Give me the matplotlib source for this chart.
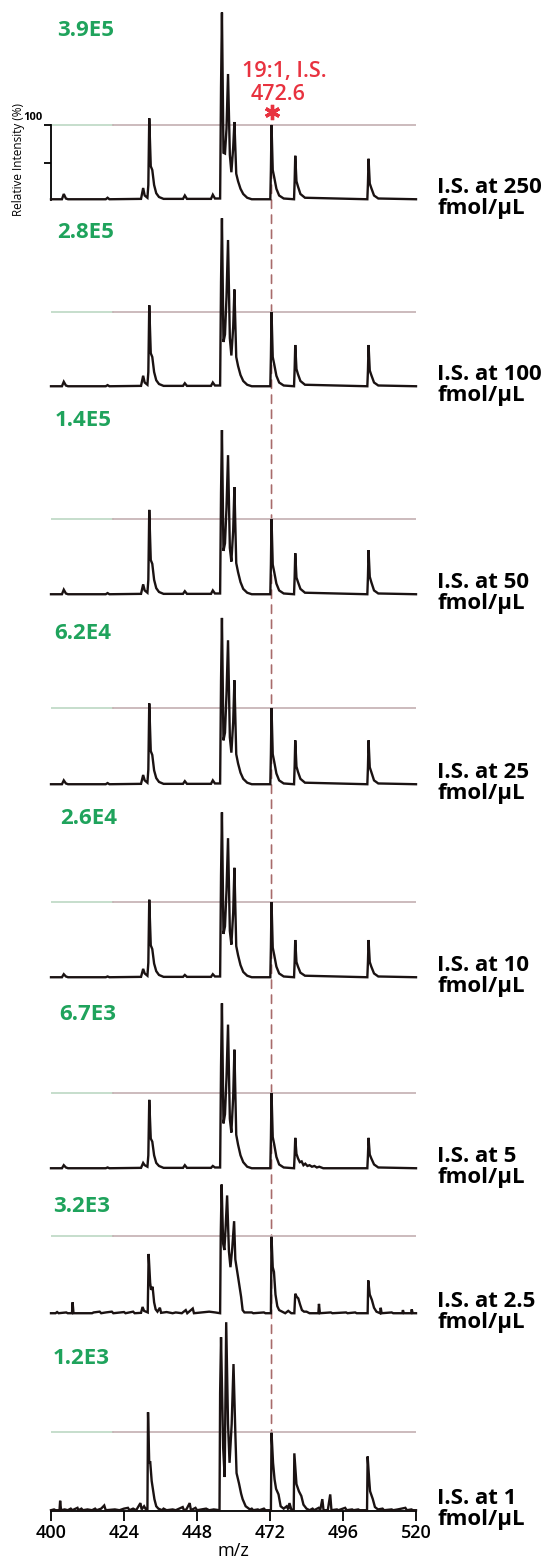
import matplotlib
matplotlib.use('Agg')
import matplotlib.pyplot as plt
from matplotlib.patches import ConnectionPatch
from matplotlib.transforms import offset_copy

plt.rcParams['font.family'] = ['Open Sans', 'DejaVu Sans']

# ---- data ----
conc_labels = ['250', '100', '50', '25', '10', '5', '2.5', '1']
signal_labels = ['3.9E5', '2.8E5', '1.4E5', '6.2E4', '2.6E4', '6.7E3', '3.2E3', '1.2E3']
mz_ticks = [400, 424, 448, 472, 496, 520]
is_mz = 472.5

# shared m/z points for the 250 .. 10 fmol/uL spectra
mz_a = [400.0, 403.6, 404.2, 404.9, 405.6, 418.0, 418.6, 419.2,
        429.6, 430.3, 430.8, 431.7, 432.0, 432.3, 432.8, 433.3, 433.9, 434.6, 435.5, 437.0,
        443.4, 444.0, 444.7, 452.6, 453.2, 453.9,
        455.6, 455.9, 456.2, 456.7, 457.2, 457.7, 458.2, 458.8, 459.3, 459.9, 460.3,
        460.9, 461.5, 462.3, 463.2, 464.5, 466.0,
        472.1, 472.3, 472.5, 472.9, 473.4, 474.1, 475.0, 476.5,
        479.9, 480.1, 480.3, 480.7, 481.2, 482.0, 483.5,
        504.0, 504.2, 504.4, 504.8, 505.3, 506.2, 507.6, 520.0]

int_250 = [1, 1, 8, 2, 1, 1, 3, 1,
           1.5, 16, 6, 3, 20, 109, 45, 40, 20, 9, 4, 1.5,
           1.5, 6, 1.5, 1.5, 7, 2,
           2, 150, 250, 63, 62, 95, 168, 60, 37, 70, 104, 35, 25, 15, 8, 3, 1,
           1, 40, 100, 40, 30, 15, 6, 2,
           1, 25, 59, 25, 18, 8, 3,
           1, 22, 55, 22, 16, 6, 2, 1]
int_100 = [1, 1, 7, 2, 1, 1, 2.5, 1,
           1.5, 15, 6, 3, 20, 109, 45, 40, 20, 9, 4, 1.5,
           1.5, 5, 1.5, 1.5, 6, 2,
           2, 140, 225, 60, 70, 120, 196, 65, 42, 80, 130, 40, 28, 16, 8, 3, 1,
           1, 40, 100, 40, 30, 15, 6, 2,
           1, 24, 56, 24, 17, 8, 3,
           1, 22, 56, 22, 16, 6, 2, 1]
int_50 = [1, 1, 7, 2, 1, 1, 2.5, 1,
          1.5, 14, 6, 3, 20, 112, 46, 41, 20, 9, 4, 1.5,
          1.5, 5, 1.5, 1.5, 6, 2,
          2, 135, 217, 58, 68, 115, 184, 62, 44, 85, 142, 42, 30, 17, 8, 3, 1,
          1, 40, 100, 40, 30, 15, 6, 2,
          1, 23, 55, 23, 17, 8, 3,
          1, 24, 59, 24, 17, 6, 2, 1]
int_25 = [1, 1, 6, 2, 1, 1, 2.5, 1,
          1.5, 13, 6, 3, 20, 106, 44, 39, 19, 9, 4, 1.5,
          1.5, 5, 1.5, 1.5, 6, 2,
          2, 135, 217, 58, 68, 118, 188, 62, 42, 82, 136, 40, 28, 16, 8, 3, 1,
          1, 40, 100, 40, 30, 15, 6, 2,
          1, 24, 58, 24, 17, 8, 3,
          1, 23, 58, 23, 17, 6, 2, 1]
int_10 = [1, 1, 5, 2, 1, 1, 2, 1,
          1.5, 12, 6, 3, 20, 103, 43, 38, 19, 9, 4, 1.5,
          1.5, 4, 1.5, 1.5, 5, 2,
          2, 135, 218, 58, 68, 115, 184, 62, 44, 86, 145, 42, 30, 17, 8, 3, 1,
          1, 40, 100, 40, 30, 15, 6, 2,
          1, 21, 50, 21, 15, 7, 3,
          1, 21, 50, 21, 15, 6, 2, 1]

# (m/z, relative intensity) for the lower concentrations
spec_5 = [(400.0, 1), (403.6, 1), (404.2, 5), (404.9, 2), (405.6, 1), (418.0, 1), (418.6, 2), (419.2, 1),
          (429.6, 1.5), (430.3, 8), (430.8, 5), (431.7, 3), (432.0, 18), (432.3, 91), (432.8, 40),
          (433.3, 36), (433.9, 18), (434.6, 8), (435.5, 4), (437.0, 1.5),
          (443.4, 1.5), (444.0, 5), (444.7, 1.5), (452.6, 1.5), (453.2, 4), (453.9, 2),
          (455.6, 2), (455.9, 135), (456.2, 218), (456.7, 60), (457.2, 72), (457.7, 120), (458.2, 190),
          (458.8, 66), (459.3, 48), (459.9, 95), (460.3, 157), (460.9, 45), (461.5, 32), (462.3, 18),
          (463.2, 9), (464.5, 3), (466.0, 1),
          (472.1, 1), (472.3, 40), (472.5, 100), (472.9, 42), (473.4, 32), (474.1, 16), (475.0, 6), (476.5, 2),
          (479.9, 1), (480.1, 18), (480.3, 41), (480.7, 20), (481.2, 14), (481.8, 9), (482.4, 10),
          (483.0, 5), (483.6, 7), (484.3, 4), (485.0, 5), (485.8, 3), (486.6, 4), (487.4, 2),
          (488.2, 3), (489.5, 1),
          (504.0, 1), (504.2, 18), (504.4, 41), (504.8, 19), (505.3, 14), (506.2, 6), (507.6, 2), (520.0, 1)]

spec_2p5 = [(400.0, 1), (401.5, 1), (402.0, 2.5), (402.5, 1), (405.0, 2), (405.5, 1), (406.9, 1),
            (407.1, 15), (407.4, 1), (413.5, 1), (414.0, 2), (416.0, 3), (416.5, 1), (418.0, 2),
            (420.0, 3), (420.5, 1), (424.0, 2.5), (424.5, 1), (427.0, 3), (427.5, 1),
            (429.6, 1.5), (430.1, 9), (430.6, 4), (431.8, 2), (432.1, 77), (432.6, 40), (432.9, 31),
            (433.4, 35), (433.9, 15), (434.4, 6), (435.0, 3), (435.8, 8), (436.2, 1.5), (438.0, 2.5),
            (440.0, 1), (441.0, 2), (443.0, 1), (444.3, 5), (444.8, 1), (446.6, 7), (447.0, 1),
            (452.0, 3), (454.0, 2), (455.6, 1), (455.8, 100), (456.1, 166), (456.6, 90), (457.0, 82),
            (457.4, 110), (457.9, 152), (458.5, 80), (459.0, 60), (459.6, 85), (460.2, 119),
            (460.6, 70), (461.0, 60), (461.6, 45), (462.5, 22), (463.0, 5), (463.6, 2), (466.0, 2),
            (466.5, 1), (470.0, 2), (470.5, 1), (472.3, 1), (472.5, 99), (472.9, 60), (473.3, 54),
            (473.8, 25), (474.4, 10), (475.0, 5), (476.0, 3), (477.0, 1), (478.0, 4), (479.0, 1),
            (480.0, 1), (480.3, 26), (480.8, 22), (481.3, 20), (481.9, 12), (482.5, 5), (483.2, 3),
            (484.0, 3), (485.0, 1), (487.9, 1), (488.1, 13), (488.4, 1), (492.0, 2), (492.5, 1),
            (497.0, 2), (497.5, 1), (500.0, 2), (500.5, 1),
            (504.1, 1), (504.3, 43), (504.8, 25), (505.5, 18), (506.2, 8), (507.0, 3), (508.2, 1),
            (508.4, 8), (508.7, 1), (512.0, 2), (512.5, 1), (515.5, 1), (515.7, 5), (516.0, 1),
            (518.4, 1), (518.6, 6), (518.9, 1), (520.0, 1)]

spec_1 = [(400.0, 1), (401.0, 2), (401.5, 1), (402.8, 1), (403.0, 13), (403.3, 1), (404.5, 2),
          (405.5, 1), (406.5, 3), (407.0, 1), (408.7, 4), (409.0, 1), (410.0, 3), (410.5, 1),
          (412.0, 2), (413.5, 1), (414.5, 3), (415.0, 1), (416.5, 3), (417.5, 7), (418.0, 1),
          (421.0, 2), (422.5, 1), (424.0, 3), (425.3, 4), (425.8, 1), (427.0, 3), (428.0, 1),
          (429.4, 10), (429.8, 2), (430.6, 6), (431.2, 2), (431.7, 2), (431.9, 125), (432.3, 60),
          (432.6, 63), (433.1, 38), (433.6, 25), (434.0, 15), (434.6, 6), (435.3, 3), (436.5, 1),
          (437.0, 3), (438.0, 1), (440.0, 2), (441.0, 1), (443.3, 5), (443.7, 1), (444.5, 2),
          (445.6, 10), (446.0, 1), (447.5, 4), (448.0, 1), (449.5, 2), (451.0, 3), (452.0, 1),
          (453.5, 2), (455.4, 1), (455.6, 150), (455.9, 220), (456.6, 80), (457.1, 43),
          (457.6, 239), (458.2, 110), (458.7, 61), (459.4, 110), (460.0, 186), (460.6, 99),
          (461.0, 48), (461.8, 35), (462.5, 22), (463.0, 15), (464.0, 6), (465.4, 2), (466.0, 3),
          (466.5, 1), (468.0, 2), (468.5, 1), (470.0, 3), (470.5, 1),
          (472.3, 1), (472.5, 99), (473.0, 61), (473.5, 40), (474.0, 28), (474.8, 21), (475.5, 6),
          (476.5, 3), (477.5, 6), (478.0, 2), (478.4, 10), (479.0, 2), (479.8, 1), (480.0, 73),
          (480.7, 34), (481.5, 25), (482.3, 19), (483.0, 8), (484.0, 3), (485.0, 1), (486.0, 3),
          (486.5, 1), (488.0, 4), (488.5, 1), (489.2, 15), (489.6, 1), (491.0, 1), (491.8, 21),
          (492.2, 1), (494.0, 2), (494.5, 1), (496.7, 4), (497.2, 1), (499.0, 2), (499.5, 1),
          (501.0, 2), (501.5, 1),
          (503.9, 1), (504.1, 69), (504.6, 40), (504.9, 25), (505.8, 15), (506.5, 5), (507.5, 2),
          (509.0, 3), (509.5, 1), (512.0, 2), (512.5, 1), (514.0, 2), (516.5, 4), (517.0, 1),
          (518.5, 2), (519.0, 1), (520.0, 1)]

# ---- layout (pixels of a 553 x 1559 canvas) ----
W, H = 553, 1559
ax_left, ax_right = 51, 416
baseline_px = [200, 387, 595, 785, 978, 1169, 1314, 1511]
line100_px = [125, 312, 519, 708, 902, 1093, 1236, 1432]
signal_xy_px = [(57, 30), (57, 232), (55, 420), (54, 633), (60, 818), (59, 1014), (53, 1206), (53, 1359)]

green = '#1fa35c'
red = '#e8323f'
trace = '#1a1212'


def spectrum(i):
    if i < 5:
        return mz_a, [int_250, int_100, int_50, int_25, int_10][i]
    pairs = [spec_5, spec_2p5, spec_1][i - 5]
    return [p[0] for p in pairs], [p[1] for p in pairs]


fig = plt.figure(figsize=(W / 100, H / 100), dpi=100)
axes = []
for i in range(8):
    b, t = baseline_px[i], line100_px[i]
    unit = (b - t) / 100.0
    top = b - 262 * unit
    bottom = b if i == 7 else b + 4
    ax = fig.add_axes([ax_left / W, 1 - bottom / H, (ax_right - ax_left) / W, (bottom - top) / H])
    ax.patch.set_alpha(0)
    ax.set_xlim(400, 520)
    ax.set_ylim(-(bottom - b) / unit, 262)
    for s in ax.spines.values():
        s.set_visible(False)
    ax.set_yticks([])
    ax.set_xticks([])

    # 100 % reference line
    ax.axhline(100, xmin=0, xmax=0.17, color='#bcd8c4', lw=1.2, zorder=1)
    ax.axhline(100, xmin=0.17, xmax=1, color='#c4afb1', lw=1.2, zorder=1)

    mz, inten = spectrum(i)
    ax.plot(mz, inten, color=trace, lw=1.7, solid_joinstyle='miter', zorder=3, clip_on=False)

    ax.annotate(f'I.S. at {conc_labels[i]}\nfmol/\u03bcL', xy=(1, 0), xycoords=('axes fraction', 'data'),
                xytext=(21, 2), textcoords='offset pixels', ha='left', va='center',
                fontsize=16, fontweight='bold', linespacing=1.05)
    sx, sy = signal_xy_px[i]
    fig.text(sx / W, 1 - sy / H, signal_labels[i], color=green, fontsize=16, fontweight='bold',
             ha='left', va='center')
    axes.append(ax)

# y axis on the top panel
ax1 = axes[0]
ax1.spines['left'].set_visible(True)
ax1.spines['left'].set_bounds(0, 100)
ax1.spines['left'].set_linewidth(1.3)
ax1.set_yticks([50, 100])
ax1.set_yticklabels([])
ax1.tick_params(axis='y', direction='out', length=5, width=1.3)
ax1.annotate('100', xy=(400, 100), xytext=(-8, 7), textcoords='offset pixels',
             ha='right', va='center', fontsize=8, fontweight='bold')
fig.text(19 / W, 1 - 160 / H, 'Relative Intensity (%)', rotation=90, ha='center', va='center', fontsize=8.5)

# internal standard annotation
ax1.annotate('19:1, I.S.', xy=(is_mz, 100), xytext=(13, 54), textcoords='offset pixels',
             ha='center', va='center', color=red, fontsize=15.5, fontweight='semibold')
ax1.annotate('472.6', xy=(is_mz, 100), xytext=(7, 30), textcoords='offset pixels',
             ha='center', va='center', color=red, fontsize=15.5, fontweight='semibold')
# asterisk marker just above the I.S. peak
star_tr = offset_copy(ax1.transData, fig=fig, x=0, y=13, units='dots')
ax1.plot([is_mz], [100], transform=star_tr, marker=(6, 2, 0), ms=11, mew=2.4,
         color=red, clip_on=False, zorder=5)

# dashed guide through all panels at the I.S. peak
con = ConnectionPatch(xyA=(is_mz, 100), coordsA=ax1.transData,
                      xyB=(is_mz, 100), coordsB=axes[-1].transData,
                      color='#a86a6a', lw=1.2, linestyle=(0, (5, 4)), zorder=0)
fig.add_artist(con)

# m/z axis on the bottom panel
ax8 = axes[-1]
ax8.spines['bottom'].set_visible(True)
ax8.spines['bottom'].set_linewidth(1.3)
ax8.set_xticks(mz_ticks)
ax8.set_xticklabels([str(v) for v in mz_ticks], fontsize=13, fontweight='semibold')
ax8.tick_params(axis='x', direction='out', length=7, width=1.3, pad=2)
ax8.set_xlabel('m/z', fontsize=13, labelpad=0)

fig.savefig('out.png', dpi=100)
